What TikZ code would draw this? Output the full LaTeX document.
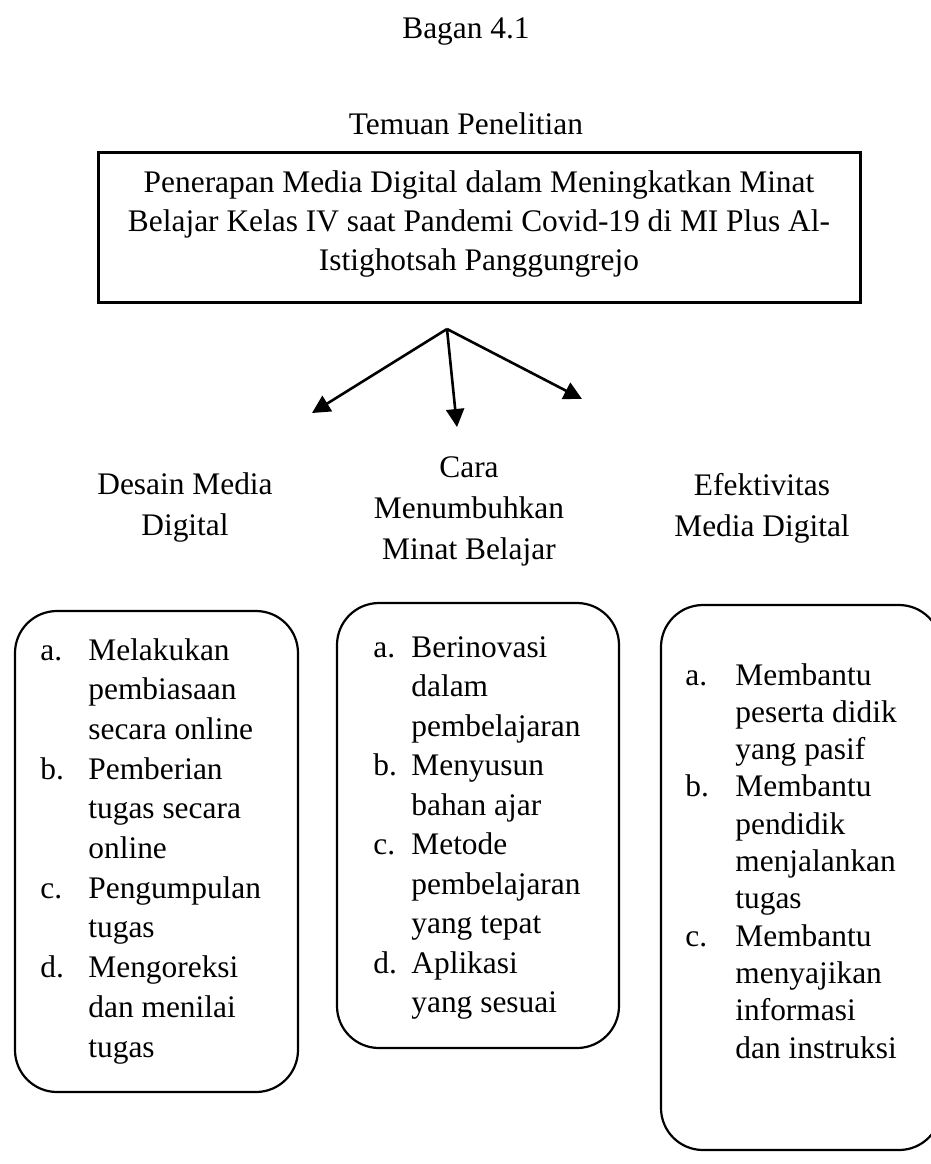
\documentclass[tikz,border=0pt]{standalone}
\usepackage{fontspec}
\setmainfont{Liberation Serif}
\usetikzlibrary{arrows.meta}
\tikzset{
  txt/.style={anchor=base, inner sep=0pt, font=\fontsize{15.7}{20}\selectfont},
  txtl/.style={txt, anchor=base west},
  rbox/.style={draw, line width=1.1pt, rounded corners=21pt, inner sep=0pt},
  arr/.style={-{Triangle[length=9pt,width=9pt]}, line width=1.3pt}
}
\begin{document}
\begin{tikzpicture}[x=0.5pt,y=-0.5pt]
\useasboundingbox (0,0) rectangle (931,1164);
\clip (0,0) rectangle (931,1164);

% titles
\node[txt] (title) at (466,38) {Bagan 4.1};
\node[txt] (sub) at (466,134) {Temuan Penelitian};

% top box
\node[draw, line width=1.5pt, minimum width=381pt, minimum height=75pt, inner sep=0pt] (top) at (479,227) {};
\node[txt] (t1) at (479,192) {Penerapan Media Digital dalam Meningkatkan Minat};
\node[txt] (t2) at (479,231) {Belajar Kelas IV saat Pandemi Covid-19 di MI Plus Al-};
\node[txt] (t3) at (479,270) {Istighotsah Panggungrejo};

% arrows
\coordinate (hub) at (447,329);
\coordinate (aL) at (312,413);
\coordinate (aM) at (457,427);
\coordinate (aR) at (582,399);
\draw[arr] (hub) -- (aL);
\draw[arr] (hub) -- (aM);
\draw[arr] (hub) -- (aR);

% headings
\node[txt] (h1a) at (185,494) {Desain Media};
\node[txt] (h1b) at (185,535) {Digital};
\node[txt] (h2a) at (469,477) {Cara};
\node[txt] (h2b) at (469,518) {Menumbuhkan};
\node[txt] (h2c) at (469,559) {Minat Belajar};
\node[txt] (h3a) at (762,495) {Efektivitas};
\node[txt] (h3b) at (762,536) {Media Digital};

% rounded boxes
\node[rbox, minimum width=141.5pt, minimum height=240.5pt] (b1) at (156.5,851.5) {};
\node[rbox, minimum width=141pt, minimum height=222.5pt] (b2) at (478,825.5) {};
\node[rbox, minimum width=140pt, minimum height=272.5pt] (b3) at (801,877.5) {};

% left list
\foreach \t [count=\i from 0] in {Melakukan, pembiasaan, secara online, Pemberian, tugas secara, online, Pengumpulan, tugas, Mengoreksi, dan menilai, tugas}
  \node[txtl] (la\i) at (88,{660+39.7*\i}) {\t};
\foreach \l/\i in {a./0, b./3, c./6, d./8}
  \node[txtl] (lb\i) at (40,{660+39.7*\i}) {\l};

% middle list
\foreach \t [count=\i from 0] in {Berinovasi, dalam, pembelajaran, Menyusun, bahan ajar, Metode, pembelajaran, yang tepat, Aplikasi, yang sesuai}
  \node[txtl] (ma\i) at (411,{657+39.5*\i}) {\t};
\foreach \l/\i in {a./0, b./3, c./5, d./8}
  \node[txtl] (mb\i) at (373,{657+39.5*\i}) {\l};

% right list
\foreach \t [count=\i from 0] in {Membantu, peserta didik, yang pasif, Membantu, pendidik, menjalankan, tugas, Membantu, menyajikan, informasi, dan instruksi}
  \node[txtl] (ra\i) at (735,{685+37.3*\i}) {\t};
\foreach \l/\i in {a./0, b./3, c./7}
  \node[txtl] (rb\i) at (685,{685+37.3*\i}) {\l};
\end{tikzpicture}
\end{document}
